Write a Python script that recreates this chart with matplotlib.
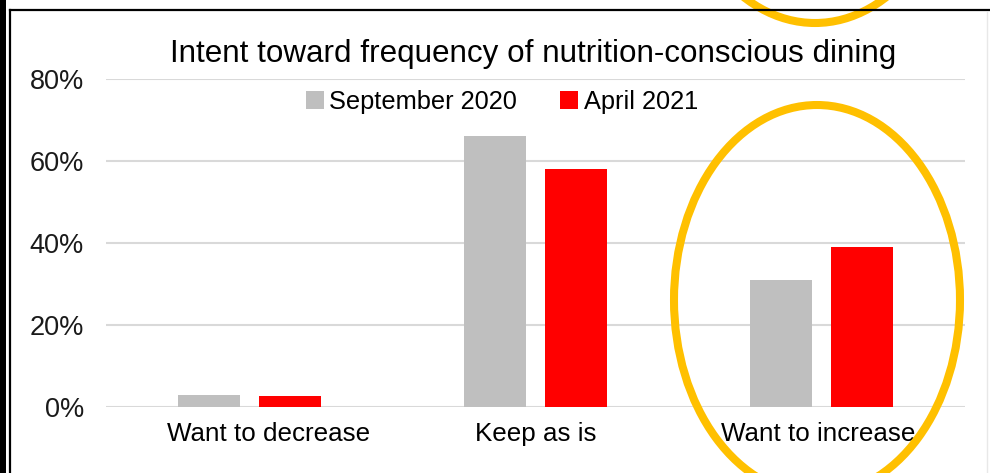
import matplotlib
matplotlib.use('Agg')
import matplotlib.pyplot as plt
from matplotlib.patches import Ellipse, Rectangle
from matplotlib.ticker import FuncFormatter
from matplotlib.transforms import ScaledTranslation

plt.rcParams['font.family'] = ['Liberation Sans', 'DejaVu Sans']

categories = ['Want to decrease', 'Keep as is', 'Want to increase']
sept_2020 = [3, 66, 31]
april_2021 = [2.7, 58, 39]
series_names = ['September 2020', 'April 2021']
title = 'Intent toward frequency of nutrition-conscious dining'

W, H = 990, 473
fig = plt.figure(figsize=(W / 100, H / 100), dpi=100)
fig.patch.set_facecolor('white')

# main bar chart, placed in pixel terms
ax = fig.add_axes([106 / W, 1 - 407 / H, 859 / W, 328 / H])
x = list(range(len(categories)))
width = 0.217
offset = 0.1416
b1 = ax.bar([i - offset for i in x], sept_2020, width, color='#BFBFBF', label=series_names[0], zorder=3)
b2 = ax.bar([i + offset for i in x], april_2021, width, color='#FF0000', label=series_names[1], zorder=3)

ax.set_xlim(-0.5, 2.5)
ax.set_ylim(0, 80)
ax.set_yticks([0, 20, 40, 60, 80])
ax.yaxis.set_major_formatter(FuncFormatter(lambda v, p: f'{v:.0f}%'))
ax.set_xticks(x)
ax.set_xticklabels(categories)
ax.grid(axis='y', color='#D9D9D9', linewidth=1.5, zorder=0)
for s in ax.spines.values():
    s.set_visible(False)
ax.tick_params(axis='y', length=0, pad=16, labelsize=19.5, labelcolor='#1a1a1a')
ax.tick_params(axis='x', length=0, pad=11, labelsize=18.7)

# category labels sit a little off-centre in the source layout
for lbl, dx in zip(ax.get_xticklabels(), [19, 0, -4]):
    lbl.set_transform(lbl.get_transform() + ScaledTranslation(dx / 100, 0, fig.dpi_scale_trans))

fig.text(0.539, 1 - 62 / H, title, ha='center', va='baseline', fontsize=22.6)

fig.legend(handles=[b1, b2], labels=series_names, loc='center',
           bbox_to_anchor=(502 / W, 1 - 102 / H), ncol=2, frameon=False,
           fontsize=18.3, handlelength=0.71, handleheight=0.71,
           handletextpad=0.2, columnspacing=1.7, borderpad=0)

# overlay in pixel coordinates for the frame and highlight rings
ov = fig.add_axes([0, 0, 1, 1], facecolor='none')
ov.set_xlim(0, W)
ov.set_ylim(H, 0)
ov.axis('off')
ov.add_patch(Rectangle((0, 0), 6, H, color='black', lw=0))
ov.plot([10, 10], [10, H], color='black', lw=1.6)
ov.plot([10, W], [10, 10], color='black', lw=1.6)
ov.plot([987, 987], [12, H], color='#E8E8E8', lw=1)
ring = '#FFC000'
ov.add_patch(Ellipse((817, 300), 286, 390, fill=False, edgecolor=ring, lw=5.8))
ov.add_patch(Ellipse((815, -172), 286, 390, fill=False, edgecolor=ring, lw=5.8))

fig.savefig('out.png', dpi=100)
